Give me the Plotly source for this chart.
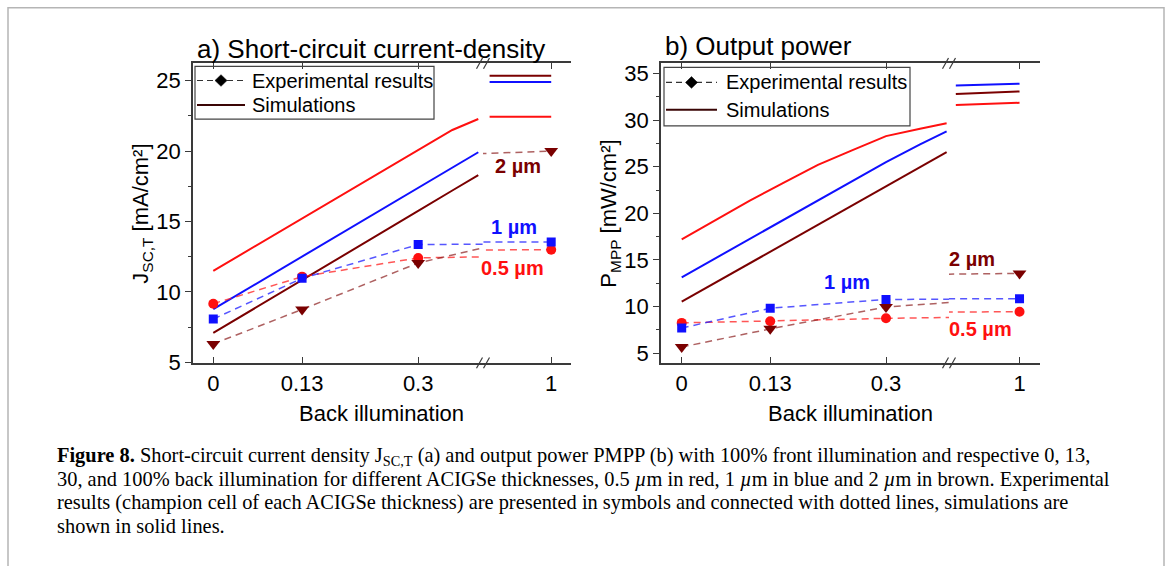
import plotly.graph_objects as go

W, H = 1168, 566
SANS = "Liberation Sans, Arial, sans-serif"
SERIF = "Liberation Serif, Times New Roman, serif"

RED = "#ff1010"
BLUE = "#1010ff"
BROWN = "#7a0000"
RED_D = "rgba(255,30,30,0.75)"
BLUE_D = "rgba(30,30,255,0.75)"
BROWN_D = "rgba(140,30,30,0.7)"

# ---------------- data ----------------
back_levels = [0, 0.13, 0.3, 1]
tick_labels_left = ["0", "0.13", "0.3"]
tick_labels_right = ["1"]

# a) short-circuit current density, experiment (mA/cm2)
jsc_exp_05 = [9.16, 11.08, 12.41, 12.99]
jsc_exp_1 = [8.07, 10.96, 13.36, 13.55]
jsc_exp_2 = [6.3, 8.75, 12.05, 20.0]

# a) simulations, partial back illumination
sim_x_a = [0, 0.1, 0.2, 0.3, 0.35, 0.388]
jsc_sim_05 = [11.49, 14.35, 17.2, 20.06, 21.5, 22.28]
jsc_sim_1 = [8.77, 11.65, 14.52, 17.4, 18.85, 19.92]
jsc_sim_2 = [7.08, 9.95, 12.85, 15.75, 17.2, 18.3]

# simulations near full back illumination
sim_x_full = [0.986, 0.993, 1.0]
jsc_sim_05_full = [22.44, 22.44, 22.44]
jsc_sim_1_full = [24.91, 24.91, 24.91]
jsc_sim_2_full = [25.35, 25.35, 25.35]

# b) output power, experiment (mW/cm2)
pmpp_exp_05 = [8.24, 8.42, 8.73, 9.43]
pmpp_exp_1 = [7.69, 9.81, 10.76, 10.83]
pmpp_exp_2 = [5.65, 7.6, 9.95, 13.55]

# b) simulations
sim_x_b = [0, 0.05, 0.1, 0.15, 0.2, 0.25, 0.3, 0.35, 0.389]
pmpp_sim_05 = [17.21, 19.3, 21.35, 23.3, 25.2, 26.75, 28.28, 29.08, 29.66]
pmpp_sim_1 = [13.13, 15.2, 17.25, 19.3, 21.4, 23.5, 25.5, 27.4, 28.79]
pmpp_sim_2 = [10.51, 12.58, 14.65, 16.72, 18.8, 20.88, 22.96, 25.0, 26.56]
pmpp_sim_05_full = [31.61, 31.72, 31.86]
pmpp_sim_1_full = [33.70, 33.80, 33.91]
pmpp_sim_2_full = [32.80, 32.92, 33.08]

legend_labels = ["Experimental results", "Simulations"]

caption_lines = [
    "<b>Figure 8.</b> Short-circuit current density J<sub>SC,T</sub> (a) and output power PMPP (b) with 100% front illumination and respective 0, 13,",
    "30, and 100% back illumination for different ACIGSe thicknesses, 0.5 <i>µ</i>m in red, 1 <i>µ</i>m in blue and 2 <i>µ</i>m in brown. Experimental",
    "results (champion cell of each ACIGSe thickness) are presented in symbols and connected with dotted lines, simulations are",
    "shown in solid lines.",
]


def px(x):
    return x / W


def py(y):
    return 1 - y / H


fig = go.Figure()

# axis ids per panel: (left x, right x, y)
panels = [
    dict(xl="x", xr="x2", y="y",
         exp=[(jsc_exp_05, RED, RED_D, "circle", 10),
              (jsc_exp_1, BLUE, BLUE_D, "square", 9),
              (jsc_exp_2, BROWN, BROWN_D, "triangle-down", 12)],
         sim=[(sim_x_a, jsc_sim_05, jsc_sim_05_full, RED),
              (sim_x_a, jsc_sim_1, jsc_sim_1_full, BLUE),
              (sim_x_a, jsc_sim_2, jsc_sim_2_full, BROWN)]),
    dict(xl="x3", xr="x4", y="y2",
         exp=[(pmpp_exp_05, RED, RED_D, "circle", 10),
              (pmpp_exp_1, BLUE, BLUE_D, "square", 9),
              (pmpp_exp_2, BROWN, BROWN_D, "triangle-down", 12)],
         sim=[(sim_x_b, pmpp_sim_05, pmpp_sim_05_full, RED),
              (sim_x_b, pmpp_sim_1, pmpp_sim_1_full, BLUE),
              (sim_x_b, pmpp_sim_2, pmpp_sim_2_full, BROWN)]),
]

for p in panels:
    for sx, sy, sy_full, col in p["sim"]:
        fig.add_trace(go.Scatter(x=sx, y=sy, mode="lines", xaxis=p["xl"], yaxis=p["y"],
                                 line=dict(color=col, width=2), showlegend=False,
                                 hoverinfo="skip"))
        fig.add_trace(go.Scatter(x=sim_x_full, y=sy_full, mode="lines", xaxis=p["xr"],
                                 yaxis=p["y"], line=dict(color=col, width=2),
                                 showlegend=False, hoverinfo="skip"))
    for ey, col, dcol, sym, size in p["exp"]:
        for xa in (p["xl"], p["xr"]):
            fig.add_trace(go.Scatter(x=back_levels, y=ey, mode="lines+markers",
                                     xaxis=xa, yaxis=p["y"],
                                     line=dict(color=dcol, width=1.5, dash="7px,5px"),
                                     marker=dict(symbol=sym, size=size, color=col,
                                                 line=dict(width=0)),
                                     showlegend=False, hoverinfo="skip"))

AXLINE = "#3a3a3a"
tickfont = dict(family=SANS, size=22, color="black")

xcommon = dict(showgrid=False, zeroline=False, showline=True, linecolor=AXLINE,
               linewidth=1.5, mirror="ticks", ticks="inside", ticklen=6,
               tickcolor=AXLINE, tickwidth=1.2, tickfont=tickfont, fixedrange=True)
ycommon = dict(showgrid=False, zeroline=False, showline=True, linecolor=AXLINE,
               linewidth=1.5, tickcolor=AXLINE, tickwidth=1.2, tickfont=tickfont,
               dtick=5, fixedrange=True)

A_L, A_B, A_R = 193, 483, 571
B_L, B_B, B_R = 661, 949, 1040
Y_T, Y_B = 63, 370
ydom = [py(Y_B), py(Y_T)]

ra_a = [-0.0297, 0.3949]
ra_b = [-0.0304, 0.3925]
ra_r = [0.9845, 1.0045]
ry_a = [4.954, 26.23]
ry_b = [3.953, 36.08]

fig.update_layout(
    width=W, height=H,
    margin=dict(l=0, r=0, t=0, b=0),
    paper_bgcolor="white", plot_bgcolor="rgba(0,0,0,0)",
    font=dict(family=SANS, color="black"),
    showlegend=False,
    xaxis=dict(xcommon, domain=[px(A_L), px(A_B)], range=ra_a, anchor="y",
               tickvals=back_levels[:3], ticktext=tick_labels_left),
    xaxis2=dict(xcommon, domain=[px(A_B), px(A_R)], range=ra_r, anchor="y",
                tickvals=back_levels[3:], ticktext=tick_labels_right),
    xaxis3=dict(xcommon, domain=[px(B_L), px(B_B)], range=ra_b, anchor="y2",
                tickvals=back_levels[:3], ticktext=tick_labels_left),
    xaxis4=dict(xcommon, domain=[px(B_B), px(B_R)], range=ra_r, anchor="y2",
                tickvals=back_levels[3:], ticktext=tick_labels_right),
    yaxis=dict(ycommon, domain=ydom, range=ry_a, anchor="x", ticks="outside",
               ticklen=6, minor=dict(dtick=2.5, ticklen=3, ticks="outside",
                                      tickcolor=AXLINE)),
    yaxis2=dict(ycommon, domain=ydom, range=ry_b, anchor="x3", ticks="outside",
                ticklen=6, minor=dict(dtick=2.5, ticklen=3, ticks="outside",
                                       tickcolor=AXLINE)),
    yaxis3=dict(ycommon, range=ry_a, overlaying="y", anchor="x2", side="right",
                ticks="inside", ticklen=5, showticklabels=False,
                minor=dict(dtick=2.5, ticklen=5, ticks="inside", tickcolor=AXLINE)),
    yaxis4=dict(ycommon, range=ry_b, overlaying="y2", anchor="x4", side="right",
                ticks="inside", ticklen=5, showticklabels=False,
                minor=dict(dtick=2.5, ticklen=5, ticks="inside", tickcolor=AXLINE)),
)

shapes = []
ann = []


def text(x, y, s, size, color="black", xanchor="center", angle=0, family=SANS):
    ann.append(dict(x=px(x), y=py(y), xref="paper", yref="paper", text=s,
                    showarrow=False, xanchor=xanchor, yanchor="middle",
                    textangle=angle, font=dict(family=family, size=size, color=color)))


def pline(x0, y0, x1, y1, color, width, dash="solid"):
    shapes.append(dict(type="line", xref="paper", yref="paper", x0=px(x0), x1=px(x1),
                       y0=py(y0), y1=py(y1), line=dict(color=color, width=width, dash=dash)))


# outer border of the figure panel
shapes.append(dict(type="rect", xref="paper", yref="paper", x0=px(8), x1=px(1164),
                   y0=-0.05, y1=py(6), line=dict(color="#b5b5b5", width=1.5)))

# axis-break marks
for cx in (A_B, B_B):
    for yy in (Y_T, Y_B):
        for off in (-3.5, 3.5):
            pline(cx + off - 3, yy + 5.5, cx + off + 3, yy - 5.5, AXLINE, 1.2)

# legend boxes: (box left, top, right, bottom, row1 y, row2 y, sample end, text x)
legend_boxes = [(195, 66, 434, 120, 80.5, 105.5, 245, 250),
                (664, 67, 910, 127, 82.5, 110.5, 717, 724)]
for bx0, by0, bx1, by1, r1, r2, lx1, tx in legend_boxes:
    shapes.append(dict(type="rect", xref="paper", yref="paper", x0=px(bx0), x1=px(bx1),
                       y0=py(by1), y1=py(by0), line=dict(color="#444", width=1.2)))
    pline(bx0 + 2, r1, lx1, r1, "#333", 1.2, "6px,4px")
    cx = (bx0 + 2 + lx1) / 2
    d = 6
    shapes.append(dict(type="path", xref="paper", yref="paper",
                       path=(f"M{px(cx)},{py(r1 - d)} L{px(cx + d)},{py(r1)} "
                             f"L{px(cx)},{py(r1 + d)} L{px(cx - d)},{py(r1)} Z"),
                       fillcolor="black", line=dict(color="black", width=0.5)))
    pline(bx0 + 2, r2, lx1, r2, "#3a0505", 2)
    text(tx, r1, legend_labels[0], 20, xanchor="left")
    text(tx, r2, legend_labels[1], 20, xanchor="left")

fig.update_layout(shapes=shapes)

text(195, 48, "a) Short-circuit current-density", 26, xanchor="left")
text(663, 45, "b) Output power", 26, xanchor="left")
text(382, 422, "Back illumination", 22)
text(850, 422, "Back illumination", 22)
text(142, 217, "J<sub>SC,T</sub> [mA/cm²]", 22, angle=-90)
text(610, 217, "P<sub>MPP</sub> [mW/cm²]", 22, angle=-90)

text(518, 168, "<b>2 µm</b>", 20, BROWN)
text(514, 231, "<b>1 µm</b>", 20, BLUE)
text(512, 273, "<b>0.5 µm</b>", 20, RED)
text(972, 264, "<b>2 µm</b>", 20, BROWN)
text(847, 287, "<b>1 µm</b>", 20, BLUE)
text(980, 335, "<b>0.5 µm</b>", 20, RED)

for i, line in enumerate(caption_lines):
    text(55, 466 + i * 23.7, line, 20.4, xanchor="left", family=SERIF)

fig.update_layout(annotations=ann)

fig.write_html("out.html")
